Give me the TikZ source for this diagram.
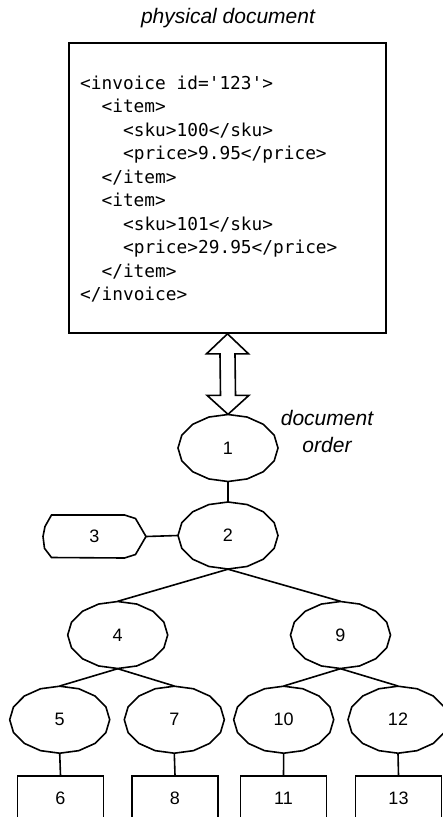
\documentclass[tikz,border=0pt]{standalone}
\usepackage{fontspec}
\setmainfont{Liberation Sans}
\setmonofont{DejaVu Sans Mono}
\usetikzlibrary{calc}
\tikzset{
  edge/.style={line width=1.6pt, black},
  ell/.style={rectangle, minimum width=100pt, minimum height=67pt, inner sep=0pt, font=\fontsize{18}{20}\selectfont},
  leaf/.style={draw, line width=1.6pt, rectangle, minimum width=86pt, minimum height=44pt, inner sep=0pt, font=\fontsize{18}{20}\selectfont},
  code/.style={anchor=base west, inner sep=0pt, font=\ttfamily\fontsize{17.8}{23.5}\selectfont},
  lbl/.style={anchor=base, inner sep=0pt, font=\itshape\fontsize{21}{26}\selectfont}
}
\newcommand{\polyell}[1]{%
  \draw[edge, shift={(#1.center)}] (50,0)
    \foreach \t in {22.5,45,...,337.5}{ -- ({50*cos(\t)},{33.5*sin(\t)})} -- cycle;}
\begin{document}
\begin{tikzpicture}[x=1pt,y=-1pt]
\useasboundingbox (0,0) rectangle (443,817);
% title
\node[lbl] (title) at (228,23) {physical document};
% document box
\node[draw, line width=1.6pt, minimum width=317pt, minimum height=290pt, inner sep=0pt] (doc) at (227.5,188) {};
\node[code] (c1) at (80,89.3) {<invoice id='123'>};
\node[code] (c2) at (101.4,112.8) {<item>};
\node[code] (c3) at (122.9,136.3) {<sku>100</sku>};
\node[code] (c4) at (122.9,159.8) {<price>9.95</price>};
\node[code] (c5) at (101.4,183.3) {</item>};
\node[code] (c6) at (101.4,206.8) {<item>};
\node[code] (c7) at (122.9,230.3) {<sku>101</sku>};
\node[code] (c8) at (122.9,253.8) {<price>29.95</price>};
\node[code] (c9) at (101.4,277.3) {</item>};
\node[code] (c10) at (80,300.8) {</invoice>};
% label
\node[lbl] (ord1) at (327,425) {document};
\node[lbl] (ord2) at (327,452.7) {order};
% tree nodes
\node[ell] (n1) at (228,448) {1};
\node[ell] (n2) at (228,535.5) {2};
\node[ell] (n4) at (117.7,635) {4};
\node[ell] (n9) at (340.5,635) {9};
\node[ell] (n5) at (59.7,719.7) {5};
\node[ell] (n7) at (174.3,719.7) {7};
\node[ell] (n10) at (283.7,719.7) {10};
\node[ell] (n12) at (398,719.7) {12};
\node[rectangle, minimum width=103pt, minimum height=43pt, inner sep=0pt, font=\fontsize{18}{20}\selectfont] (n3) at (94.5,536.5) {3};
\foreach \n in {n1,n2,n4,n9,n5,n7,n10,n12}{\polyell{\n}}
\draw[edge, shift={(n3.center)}] (-43,-21.5) -- (30,-21.5) -- (41,-18) -- (51.5,0) -- (41,18) -- (30,21.5)
  -- (-43,21) -- (-50,11.8) -- (-51.5,0) -- (-49.5,-10) -- cycle;
% leaves
\node[leaf] (b6) at (60.5,798) {6};
\node[leaf] (b8) at (175,798) {8};
\node[leaf] (b11) at (283.5,798) {11};
\node[leaf] (b13) at (398.5,798) {13};
% double arrow
\draw[edge, line join=miter] (doc.south) -- ++(21,20) -- ++(-13.5,0) -- ($(n1.north)+(7.5,-19)$) -- ++(13.5,0)
  -- (n1.north) -- ++(-21,-19) -- ++(13.5,0) -- ($(doc.south)+(-7.5,20)$) -- ++(-13.5,0) -- cycle;
% connectors
\draw[edge] (n1.south) -- (n2.north);
\draw[edge] (n3.east) -- (n2.west);
\draw[edge] (n2.south) -- (n4.north);
\draw[edge] (n2.south) -- (n9.north);
\draw[edge] (n4.south) -- (n5.north);
\draw[edge] (n4.south) -- (n7.north);
\draw[edge] (n9.south) -- (n10.north);
\draw[edge] (n9.south) -- (n12.north);
\draw[edge] (n5.south) -- (b6.north);
\draw[edge] (n7.south) -- (b8.north);
\draw[edge] (n10.south) -- (b11.north);
\draw[edge] (n12.south) -- (b13.north);
\end{tikzpicture}
\end{document}
